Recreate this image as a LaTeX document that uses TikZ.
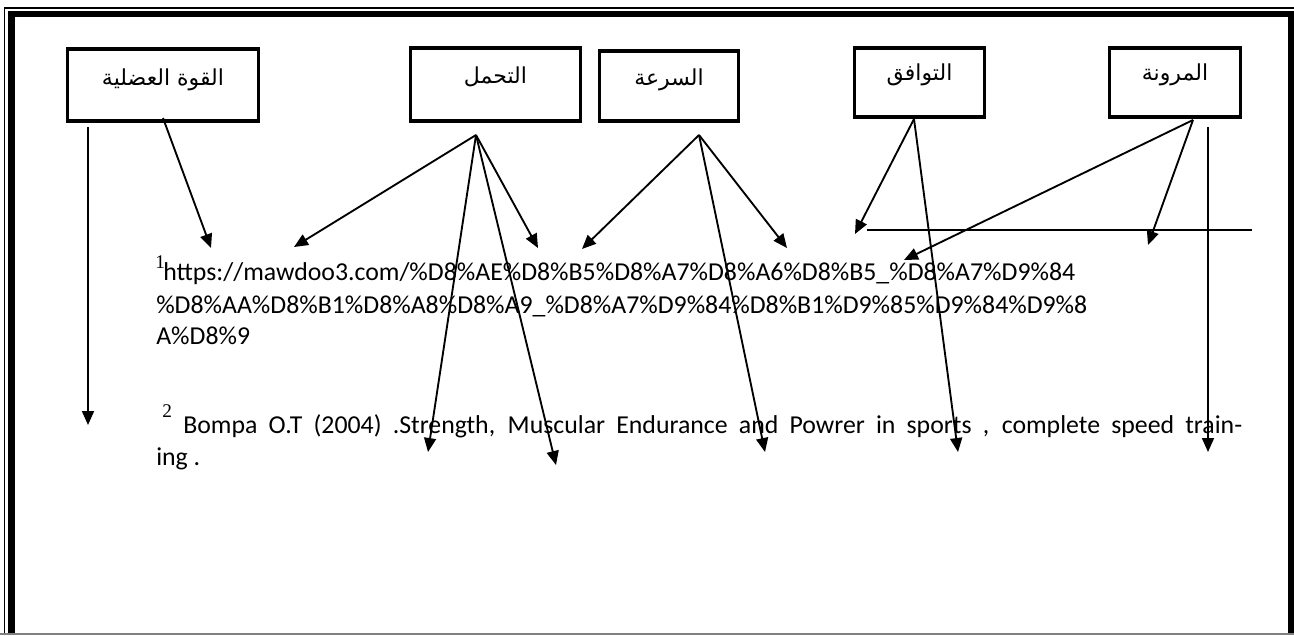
\documentclass[tikz,border=0pt]{standalone}
\usepackage{fontspec}
\usetikzlibrary{arrows.meta}
\TeXXeTstate=1
\newfontfamily\arabicfont[Script=Arabic]{DejaVu Sans}
\newfontfamily\calibrifont{Carlito}
\newfontfamily\timesfont{Liberation Serif}
\begin{document}
\begin{tikzpicture}[x=0.75pt,y=-0.75pt]
\tikzset{
  catbox/.style={draw, line width=2.4pt, inner sep=0pt},
  catlbl/.style={font=\arabicfont\fontsize{16.5}{19}\selectfont, inner sep=0pt},
  con/.style={line width=1.4pt, -{Triangle[length=10.5pt,width=9pt]}},
  plainline/.style={line width=1.4pt},
  reftext/.style={anchor=base west, inner sep=0pt, font=\calibrifont\fontsize{19.35}{23}\selectfont},
  supnum/.style={anchor=base west, inner sep=0pt, font=\timesfont\fontsize{14.5}{16}\selectfont},
}
\useasboundingbox (0,0) rectangle (1294,635);
\fill[white] (0,0) rectangle (1294,635);
% page frame
\draw[line width=0.9pt] (4.5,635) -- (4.5,8) -- (1294,8);
\draw[line width=5pt] (11.2,635) -- (11.2,14) -- (1291.5,14) -- (1291.5,635);
\draw[gray, line width=1.2pt] (0,634) -- (1294,634);

% category boxes
\node[catbox, minimum width=143.25pt, minimum height=54pt,
  label={[catlbl, yshift=4pt]center:{\beginR القوة العضلية\endR}}] (b1) at (163,85) {};
\node[catbox, minimum width=127.5pt, minimum height=54.75pt,
  label={[catlbl, yshift=5.5pt]center:{\beginR التحمل\endR}}] (b2) at (495.5,84.5) {};
\node[catbox, minimum width=104.25pt, minimum height=52.5pt,
  label={[catlbl, yshift=4.5pt]center:{\beginR السرعة\endR}}] (b3) at (669,86) {};
\node[catbox, minimum width=97.5pt, minimum height=51.75pt,
  label={[catlbl, yshift=5.5pt]center:{\beginR التوافق\endR}}] (b4) at (919.5,82.5) {};
\node[catbox, minimum width=98.25pt, minimum height=51.75pt,
  label={[catlbl, yshift=5.5pt]center:{\beginR المرونة\endR}}] (b5) at (1175,82.5) {};

% connector origins and free ends
\coordinate (q0) at (163,118);
\coordinate (qv0) at (88,127);
\coordinate (qv1) at (88,425);
\coordinate (q1) at (211,248);
\coordinate (t0) at (476,135);
\coordinate (t1) at (294,247);
\coordinate (t2) at (538,248);
\coordinate (t3) at (428,452);
\coordinate (t4) at (556,465);
\coordinate (s0) at (699,135);
\coordinate (s1) at (582,249);
\coordinate (s2) at (787,248);
\coordinate (s3) at (765,452);
\coordinate (w0) at (914,119);
\coordinate (w1) at (855,234);
\coordinate (w2) at (958,452);
\coordinate (m0) at (1193,120);
\coordinate (m1) at (904,260);
\coordinate (m2) at (1148,245);
\coordinate (mv0) at (1208,127);
\coordinate (mv1) at (1208,452);
\coordinate (h0) at (867,230);
\coordinate (h1) at (1252,230);

% reference text
\node[supnum] (n1) at (155,268) {1};
\node[reftext] (r1) at (163,280) {https://mawdoo3.com/\%D8\%AE\%D8\%B5\%D8\%A7\%D8\%A6\%D8\%B5\_\%D8\%A7\%D9\%84};
\node[reftext] (r2) at (156,313) {\%D8\%AA\%D8\%B1\%D8\%A8\%D8\%A9\_\%D8\%A7\%D9\%84\%D8\%B1\%D9\%85\%D9\%84\%D9\%8};
\node[reftext] (r3) at (156,344) {A\%D8\%9};
\node[supnum] (n2) at (162,417) {2};
\node[reftext] (r4) at (183,433) {\makebox[794.25pt][s]{Bompa O.T (2004) .Strength, Muscular Endurance and Powrer in sports , complete speed train-}};
\node[reftext] (r5) at (156,465) {ing .};

% connectors
\draw[con] (qv0) -- (qv1);
\draw[con] (q0) -- (q1);
\draw[con] (t0) -- (t1);
\draw[con] (t0) -- (t2);
\draw[con] (t0) -- (t3);
\draw[con] (t0) -- (t4);
\draw[con] (s0) -- (s1);
\draw[con] (s0) -- (s2);
\draw[con] (s0) -- (s3);
\draw[con] (w0) -- (w1);
\draw[con] (w0) -- (w2);
\draw[con] (m0) -- (m1);
\draw[con] (m0) -- (m2);
\draw[con] (mv0) -- (mv1);
\draw[plainline] (h0) -- (h1);
\end{tikzpicture}
\end{document}
